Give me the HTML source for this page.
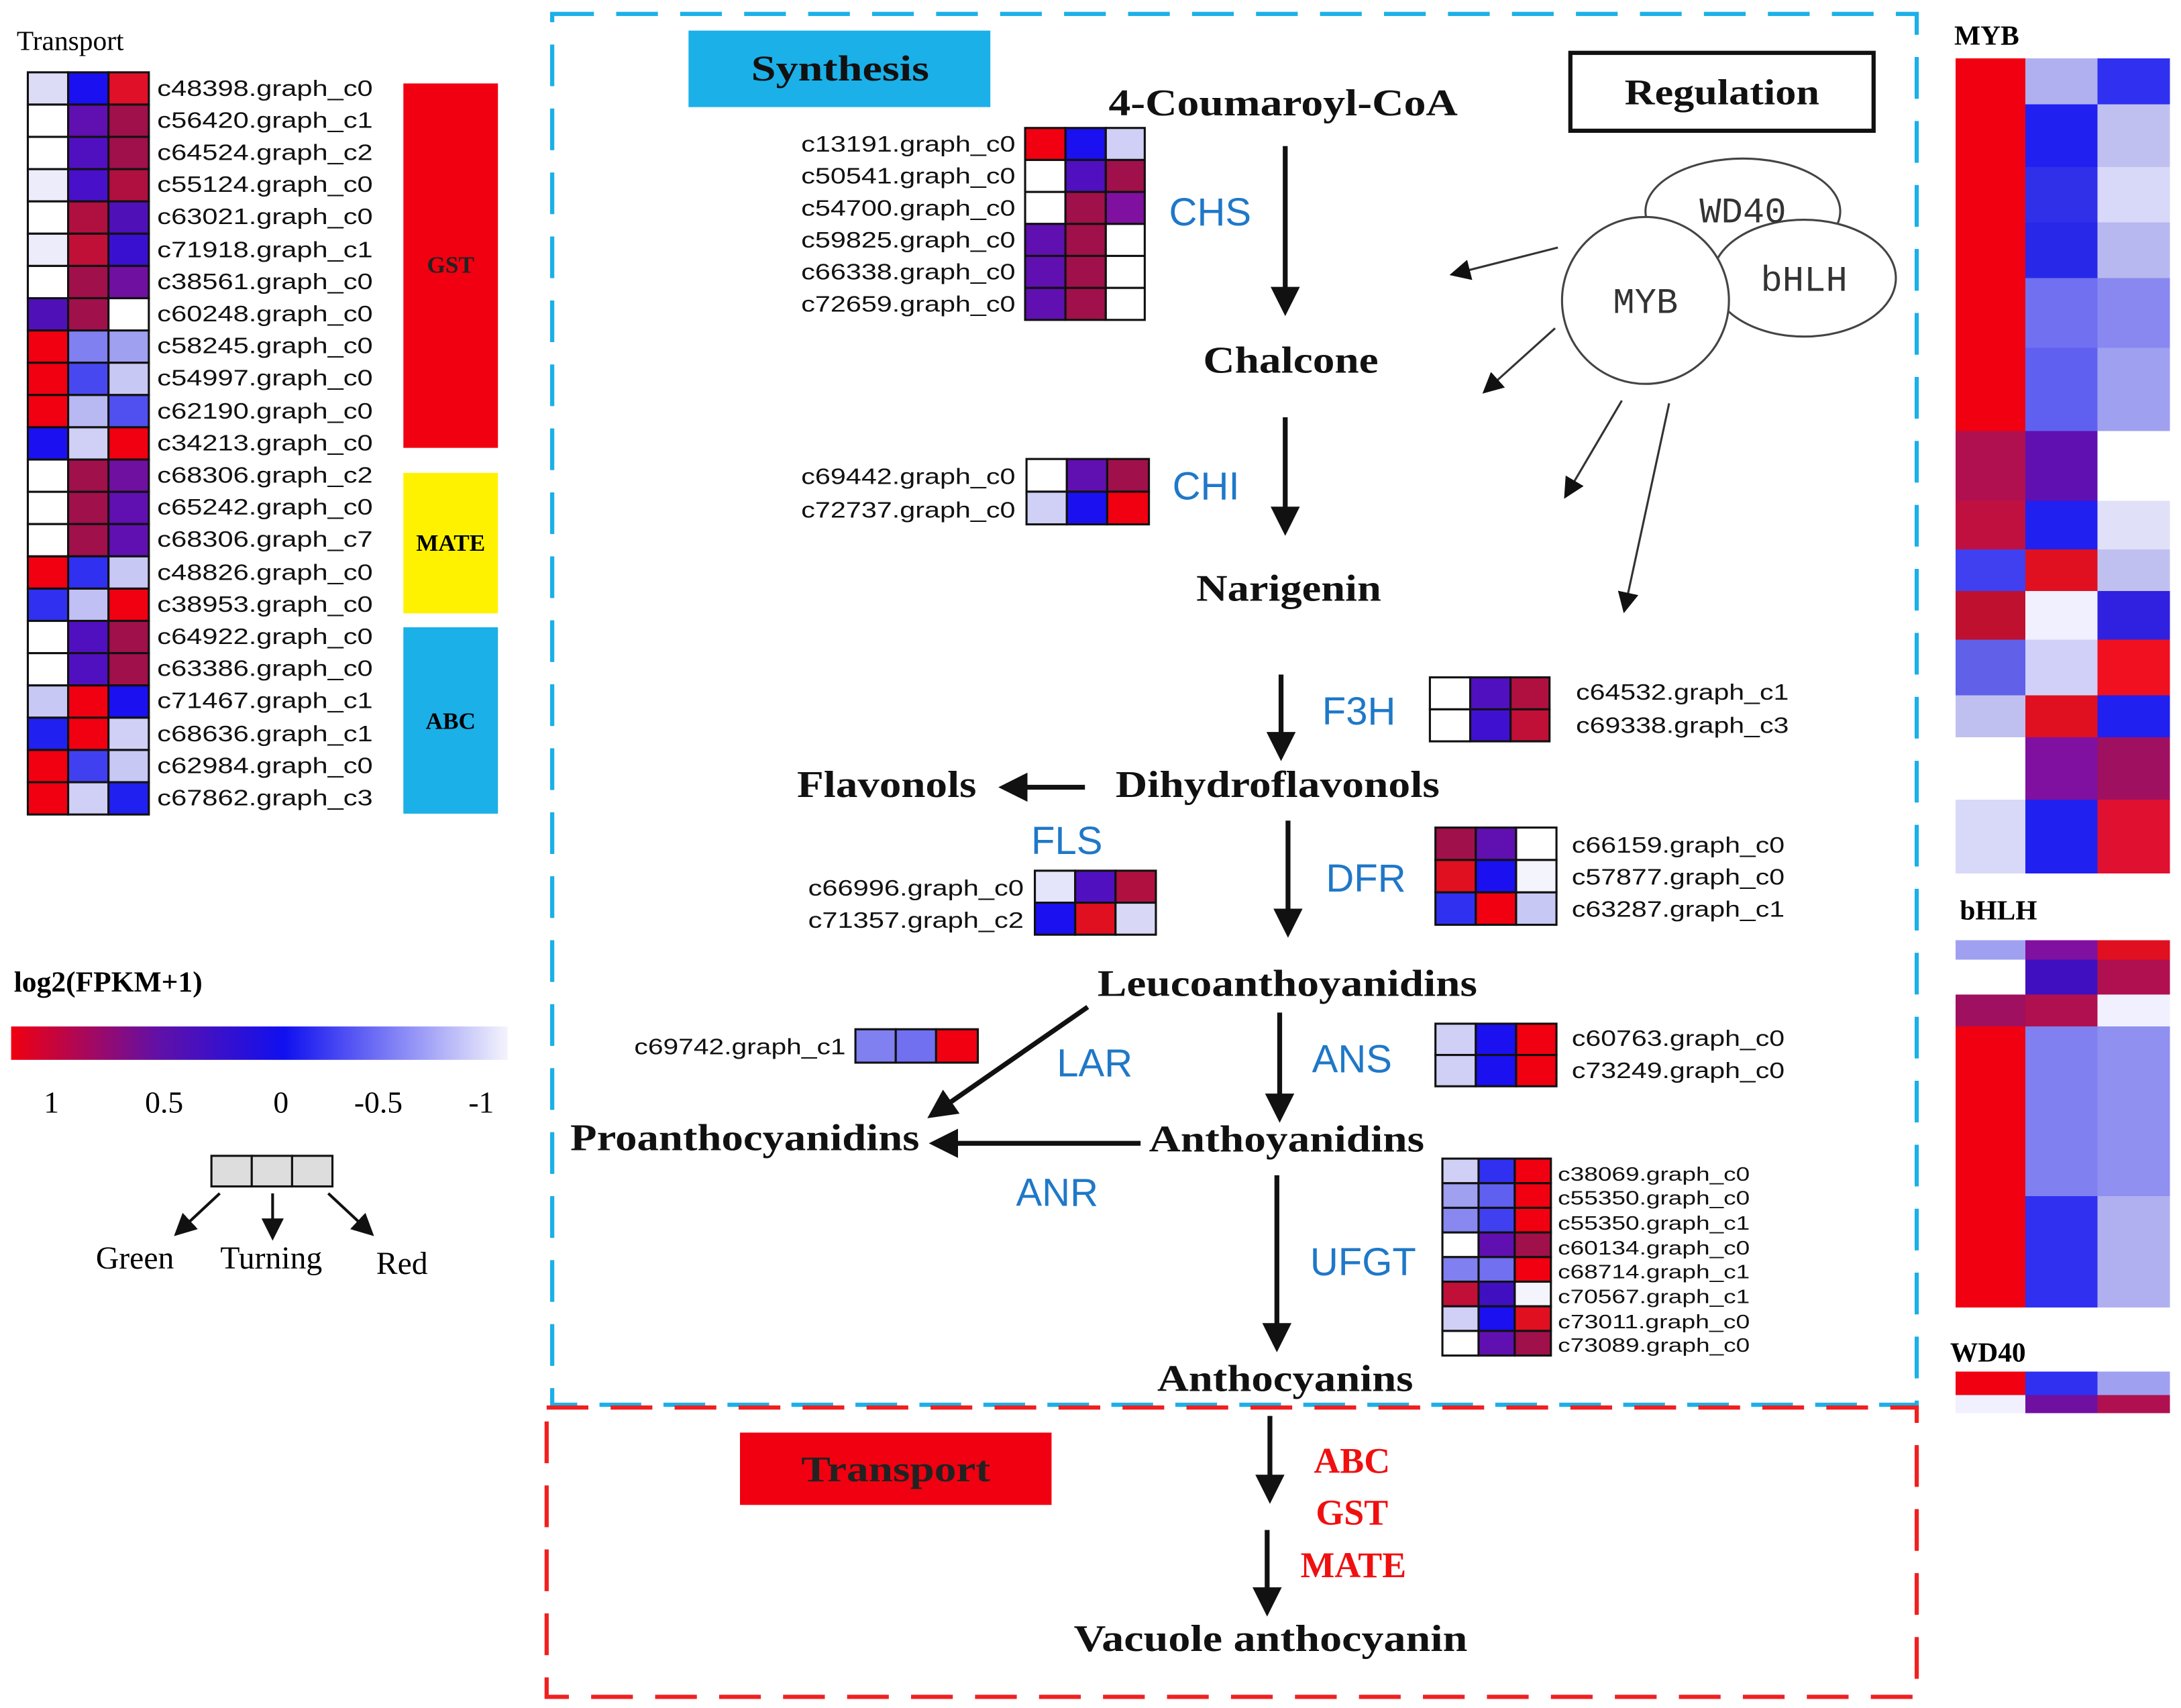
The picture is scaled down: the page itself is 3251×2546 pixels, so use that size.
<!DOCTYPE html>
<html><head><meta charset="utf-8"><style>
html,body{margin:0;padding:0;background:#fff}
svg{display:block}
.g{font-family:"Liberation Sans",sans-serif;font-size:15px;fill:#111}
.p{font-family:"Liberation Serif",serif;font-weight:bold;font-size:26px;fill:#111}
.e{font-family:"Liberation Sans",sans-serif;font-size:28px;fill:#1f78c8}
.t{font-family:"Liberation Serif",serif;font-weight:bold;font-size:26px;fill:#f01010}
rect.c{stroke:#111;stroke-width:1.5}
</style></head><body>
<svg width="3251" height="2546" viewBox="0 0 1568 1228" preserveAspectRatio="none" xmlns="http://www.w3.org/2000/svg">
<defs>
<marker id="a" markerWidth="6" markerHeight="6" refX="4.5" refY="3" orient="auto" markerUnits="strokeWidth"><path d="M0,0 L6,3 L0,6 z" fill="#111"/></marker>
<marker id="b" markerWidth="8" markerHeight="8" refX="6" refY="4" orient="auto" markerUnits="strokeWidth"><path d="M0,0 L8,4 L0,8 z" fill="#111"/></marker>
<marker id="s" markerWidth="10" markerHeight="10" refX="8" refY="5" orient="auto" markerUnits="strokeWidth"><path d="M0,0 L10,5 L0,10 z" fill="#111"/></marker>
<linearGradient id="lg" x1="0" x2="1"><stop offset="0" stop-color="#f00010"/><stop offset="0.3" stop-color="#6010a8"/><stop offset="0.55" stop-color="#1010f0"/><stop offset="1" stop-color="#f4f4fc"/></linearGradient>
</defs>

<text x="12" y="36" style="font-family:'Liberation Serif',serif;font-size:20px">Transport</text>
<g>
<rect class="c" x="20" y="52" width="29" height="23.2" fill="#dcdcf6"/><rect class="c" x="49" y="52" width="29" height="23.2" fill="#1a10f0"/><rect class="c" x="78" y="52" width="29" height="23.2" fill="#e01028"/>
<rect class="c" x="20" y="75.2" width="29" height="23.2" fill="#fff"/><rect class="c" x="49" y="75.2" width="29" height="23.2" fill="#6010b0"/><rect class="c" x="78" y="75.2" width="29" height="23.2" fill="#a0104a"/>
<rect class="c" x="20" y="98.4" width="29" height="23.2" fill="#fff"/><rect class="c" x="49" y="98.4" width="29" height="23.2" fill="#5010c0"/><rect class="c" x="78" y="98.4" width="29" height="23.2" fill="#a0104a"/>
<rect class="c" x="20" y="121.6" width="29" height="23.2" fill="#ececfa"/><rect class="c" x="49" y="121.6" width="29" height="23.2" fill="#4810c8"/><rect class="c" x="78" y="121.6" width="29" height="23.2" fill="#b01040"/>
<rect class="c" x="20" y="144.8" width="29" height="23.2" fill="#fff"/><rect class="c" x="49" y="144.8" width="29" height="23.2" fill="#b01040"/><rect class="c" x="78" y="144.8" width="29" height="23.2" fill="#5010b8"/>
<rect class="c" x="20" y="168" width="29" height="23.2" fill="#ececfa"/><rect class="c" x="49" y="168" width="29" height="23.2" fill="#c01038"/><rect class="c" x="78" y="168" width="29" height="23.2" fill="#3a10d0"/>
<rect class="c" x="20" y="191.2" width="29" height="23.2" fill="#fff"/><rect class="c" x="49" y="191.2" width="29" height="23.2" fill="#a0104a"/><rect class="c" x="78" y="191.2" width="29" height="23.2" fill="#7010a0"/>
<rect class="c" x="20" y="214.4" width="29" height="23.2" fill="#5010b8"/><rect class="c" x="49" y="214.4" width="29" height="23.2" fill="#a0104a"/><rect class="c" x="78" y="214.4" width="29" height="23.2" fill="#fff"/>
<rect class="c" x="20" y="237.6" width="29" height="23.2" fill="#f00010"/><rect class="c" x="49" y="237.6" width="29" height="23.2" fill="#8080f0"/><rect class="c" x="78" y="237.6" width="29" height="23.2" fill="#a0a0f0"/>
<rect class="c" x="20" y="260.8" width="29" height="23.2" fill="#f00010"/><rect class="c" x="49" y="260.8" width="29" height="23.2" fill="#4848f0"/><rect class="c" x="78" y="260.8" width="29" height="23.2" fill="#c8c8f4"/>
<rect class="c" x="20" y="284" width="29" height="23.2" fill="#f00010"/><rect class="c" x="49" y="284" width="29" height="23.2" fill="#b8b8f2"/><rect class="c" x="78" y="284" width="29" height="23.2" fill="#5050f0"/>
<rect class="c" x="20" y="307.2" width="29" height="23.2" fill="#1a10f0"/><rect class="c" x="49" y="307.2" width="29" height="23.2" fill="#d0d0f6"/><rect class="c" x="78" y="307.2" width="29" height="23.2" fill="#f00010"/>
<rect class="c" x="20" y="330.4" width="29" height="23.2" fill="#fff"/><rect class="c" x="49" y="330.4" width="29" height="23.2" fill="#a0104a"/><rect class="c" x="78" y="330.4" width="29" height="23.2" fill="#7010a0"/>
<rect class="c" x="20" y="353.6" width="29" height="23.2" fill="#fff"/><rect class="c" x="49" y="353.6" width="29" height="23.2" fill="#a0104a"/><rect class="c" x="78" y="353.6" width="29" height="23.2" fill="#6010b0"/>
<rect class="c" x="20" y="376.8" width="29" height="23.2" fill="#fff"/><rect class="c" x="49" y="376.8" width="29" height="23.2" fill="#a0104a"/><rect class="c" x="78" y="376.8" width="29" height="23.2" fill="#6010b0"/>
<rect class="c" x="20" y="400" width="29" height="23.2" fill="#f00010"/><rect class="c" x="49" y="400" width="29" height="23.2" fill="#3030f0"/><rect class="c" x="78" y="400" width="29" height="23.2" fill="#c8c8f4"/>
<rect class="c" x="20" y="423.2" width="29" height="23.2" fill="#3030f0"/><rect class="c" x="49" y="423.2" width="29" height="23.2" fill="#c0c0f4"/><rect class="c" x="78" y="423.2" width="29" height="23.2" fill="#f00010"/>
<rect class="c" x="20" y="446.4" width="29" height="23.2" fill="#fff"/><rect class="c" x="49" y="446.4" width="29" height="23.2" fill="#5010c0"/><rect class="c" x="78" y="446.4" width="29" height="23.2" fill="#a0104a"/>
<rect class="c" x="20" y="469.6" width="29" height="23.2" fill="#fff"/><rect class="c" x="49" y="469.6" width="29" height="23.2" fill="#5010c0"/><rect class="c" x="78" y="469.6" width="29" height="23.2" fill="#a0104a"/>
<rect class="c" x="20" y="492.8" width="29" height="23.2" fill="#c8c8f4"/><rect class="c" x="49" y="492.8" width="29" height="23.2" fill="#f00010"/><rect class="c" x="78" y="492.8" width="29" height="23.2" fill="#1a10f0"/>
<rect class="c" x="20" y="516" width="29" height="23.2" fill="#2020f0"/><rect class="c" x="49" y="516" width="29" height="23.2" fill="#f00010"/><rect class="c" x="78" y="516" width="29" height="23.2" fill="#d0d0f6"/>
<rect class="c" x="20" y="539.2" width="29" height="23.2" fill="#f00010"/><rect class="c" x="49" y="539.2" width="29" height="23.2" fill="#4040f0"/><rect class="c" x="78" y="539.2" width="29" height="23.2" fill="#c8c8f4"/>
<rect class="c" x="20" y="562.4" width="29" height="23.2" fill="#f00010"/><rect class="c" x="49" y="562.4" width="29" height="23.2" fill="#d0d0f6"/><rect class="c" x="78" y="562.4" width="29" height="23.2" fill="#2020f0"/>
</g>
<g class="g" style="font-size:16px">
<text x="113" y="69" textLength="155" lengthAdjust="spacingAndGlyphs">c48398.graph_c0</text><text x="113" y="92" textLength="155" lengthAdjust="spacingAndGlyphs">c56420.graph_c1</text><text x="113" y="115" textLength="155" lengthAdjust="spacingAndGlyphs">c64524.graph_c2</text><text x="113" y="138" textLength="155" lengthAdjust="spacingAndGlyphs">c55124.graph_c0</text><text x="113" y="161" textLength="155" lengthAdjust="spacingAndGlyphs">c63021.graph_c0</text><text x="113" y="185" textLength="155" lengthAdjust="spacingAndGlyphs">c71918.graph_c1</text><text x="113" y="208" textLength="155" lengthAdjust="spacingAndGlyphs">c38561.graph_c0</text><text x="113" y="231" textLength="155" lengthAdjust="spacingAndGlyphs">c60248.graph_c0</text><text x="113" y="254" textLength="155" lengthAdjust="spacingAndGlyphs">c58245.graph_c0</text><text x="113" y="277" textLength="155" lengthAdjust="spacingAndGlyphs">c54997.graph_c0</text><text x="113" y="301" textLength="155" lengthAdjust="spacingAndGlyphs">c62190.graph_c0</text><text x="113" y="324" textLength="155" lengthAdjust="spacingAndGlyphs">c34213.graph_c0</text><text x="113" y="347" textLength="155" lengthAdjust="spacingAndGlyphs">c68306.graph_c2</text><text x="113" y="370" textLength="155" lengthAdjust="spacingAndGlyphs">c65242.graph_c0</text><text x="113" y="393" textLength="155" lengthAdjust="spacingAndGlyphs">c68306.graph_c7</text><text x="113" y="417" textLength="155" lengthAdjust="spacingAndGlyphs">c48826.graph_c0</text><text x="113" y="440" textLength="155" lengthAdjust="spacingAndGlyphs">c38953.graph_c0</text><text x="113" y="463" textLength="155" lengthAdjust="spacingAndGlyphs">c64922.graph_c0</text><text x="113" y="486" textLength="155" lengthAdjust="spacingAndGlyphs">c63386.graph_c0</text><text x="113" y="509" textLength="155" lengthAdjust="spacingAndGlyphs">c71467.graph_c1</text><text x="113" y="533" textLength="155" lengthAdjust="spacingAndGlyphs">c68636.graph_c1</text><text x="113" y="556" textLength="155" lengthAdjust="spacingAndGlyphs">c62984.graph_c0</text><text x="113" y="579" textLength="155" lengthAdjust="spacingAndGlyphs">c67862.graph_c3</text>
</g>
<rect x="290" y="60" width="68" height="262" fill="#f00010"/>
<rect x="290" y="340" width="68" height="101" fill="#fff200"/>
<rect x="290" y="451" width="68" height="134" fill="#1bb0e8"/>
<g style="font-family:'Liberation Serif',serif;font-weight:bold;font-size:17px" text-anchor="middle"><text x="324" y="196" fill="#222">GST</text><text x="324" y="396">MATE</text><text x="324" y="524">ABC</text></g>

<text x="10" y="713" style="font-family:'Liberation Serif',serif;font-weight:bold;font-size:21px">log2(FPKM+1)</text>
<rect x="8" y="738" width="357" height="24" fill="url(#lg)"/>
<g style="font-family:'Liberation Serif',serif;font-size:22px" text-anchor="middle"><text x="37" y="800">1</text><text x="118" y="800">0.5</text><text x="202" y="800">0</text><text x="272" y="800">-0.5</text><text x="346" y="800">-1</text></g>
<rect x="152" y="831" width="29" height="22" fill="#ddd" stroke="#111" stroke-width="1.5"/><rect x="181" y="831" width="29" height="22" fill="#ddd" stroke="#111" stroke-width="1.5"/><rect x="210" y="831" width="29" height="22" fill="#ddd" stroke="#111" stroke-width="1.5"/>
<g stroke="#111" stroke-width="2"><line x1="158" y1="858" x2="128" y2="886" marker-end="url(#b)"/><line x1="196" y1="858" x2="196" y2="888" marker-end="url(#b)"/><line x1="236" y1="858" x2="266" y2="886" marker-end="url(#b)"/></g>
<g style="font-family:'Liberation Serif',serif;font-size:23px" text-anchor="middle"><text x="97" y="912">Green</text><text x="195" y="912">Turning</text><text x="289" y="916">Red</text></g>

<rect x="397" y="10" width="981" height="1000" fill="none" stroke="#1bb0e8" stroke-width="3" stroke-dasharray="30,16"/>
<rect x="393" y="1012" width="985" height="208" fill="none" stroke="#f02020" stroke-width="3" stroke-dasharray="30,16"/>
<rect x="495" y="22" width="217" height="55" fill="#1bb0e8"/>
<text x="604" y="58" text-anchor="middle" class="p" textLength="128" lengthAdjust="spacingAndGlyphs">Synthesis</text>
<rect x="532" y="1030" width="224" height="52" fill="#f00010"/>
<text x="644" y="1065" text-anchor="middle" class="p" style="fill:#222" textLength="136" lengthAdjust="spacingAndGlyphs">Transport</text>
<rect x="1129" y="38" width="218" height="56" fill="#fff" stroke="#111" stroke-width="3"/>
<text x="1238" y="75" text-anchor="middle" class="p" textLength="140" lengthAdjust="spacingAndGlyphs">Regulation</text>

<ellipse cx="1253" cy="152" rx="70" ry="38" fill="#fff" stroke="#444" stroke-width="1.5"/>
<ellipse cx="1297" cy="200" rx="66" ry="42" fill="#fff" stroke="#444" stroke-width="1.5"/>
<circle cx="1183" cy="216" r="60" fill="#fff" stroke="#444" stroke-width="1.5"/>
<g style="font-family:'Liberation Mono',monospace;font-size:26px" text-anchor="middle" fill="#333"><text x="1253" y="160">WD40</text><text x="1297" y="209">bHLH</text><text x="1183" y="225">MYB</text></g>
<g stroke="#333" stroke-width="1.5"><line x1="1120" y1="178" x2="1045" y2="197" marker-end="url(#s)"/><line x1="1118" y1="236" x2="1068" y2="281" marker-end="url(#s)"/><line x1="1166" y1="288" x2="1126" y2="356" marker-end="url(#s)"/><line x1="1200" y1="290" x2="1168" y2="438" marker-end="url(#s)"/></g>

<g class="p" style="font-size:27px">
<text x="797" y="83" textLength="251" lengthAdjust="spacingAndGlyphs">4-Coumaroyl-CoA</text>
<text x="865" y="268" textLength="126" lengthAdjust="spacingAndGlyphs">Chalcone</text>
<text x="860" y="432" textLength="133" lengthAdjust="spacingAndGlyphs">Narigenin</text>
<text x="802" y="573" textLength="233" lengthAdjust="spacingAndGlyphs">Dihydroflavonols</text>
<text x="573" y="573" textLength="129" lengthAdjust="spacingAndGlyphs">Flavonols</text>
<text x="789" y="716" textLength="273" lengthAdjust="spacingAndGlyphs">Leucoanthoyanidins</text>
<text x="410" y="827" textLength="251" lengthAdjust="spacingAndGlyphs">Proanthocyanidins</text>
<text x="826" y="828" textLength="198" lengthAdjust="spacingAndGlyphs">Anthoyanidins</text>
<text x="832" y="1000" textLength="184" lengthAdjust="spacingAndGlyphs">Anthocyanins</text>
<text x="772" y="1187" textLength="283" lengthAdjust="spacingAndGlyphs">Vacuole anthocyanin</text>
</g>
<g class="e" text-anchor="middle">
<text x="870" y="162">CHS</text><text x="867" y="359">CHI</text><text x="977" y="521">F3H</text><text x="767" y="614">FLS</text><text x="982" y="641">DFR</text><text x="787" y="774">LAR</text><text x="972" y="771">ANS</text><text x="760" y="867">ANR</text><text x="980" y="917">UFGT</text>
</g>
<g class="t" text-anchor="middle"><text x="972" y="1059">ABC</text><text x="972" y="1096">GST</text><text x="973" y="1134">MATE</text></g>

<g stroke="#111" stroke-width="3.5">
<line x1="924" y1="105" x2="924" y2="222" marker-end="url(#a)"/>
<line x1="924" y1="300" x2="924" y2="380" marker-end="url(#a)"/>
<line x1="921" y1="485" x2="921" y2="542" marker-end="url(#a)"/>
<line x1="926" y1="590" x2="926" y2="669" marker-end="url(#a)"/>
<line x1="920" y1="728" x2="920" y2="802" marker-end="url(#a)"/>
<line x1="918" y1="845" x2="918" y2="967" marker-end="url(#a)"/>
<line x1="913" y1="1018" x2="913" y2="1076" marker-end="url(#a)"/>
<line x1="911" y1="1100" x2="911" y2="1157" marker-end="url(#a)"/>
<line x1="780" y1="566" x2="723" y2="566" marker-end="url(#a)"/>
<line x1="820" y1="822" x2="673" y2="822" marker-end="url(#a)"/>
<line x1="782" y1="724" x2="671" y2="801" marker-end="url(#a)"/>
</g>

<g>
<rect class="c" x="737" y="92" width="29" height="23" fill="#f00010"/><rect class="c" x="766" y="92" width="29" height="23" fill="#1a10f0"/><rect class="c" x="795" y="92" width="28" height="23" fill="#d0d0f6"/>
<rect class="c" x="737" y="115" width="29" height="23" fill="#fff"/><rect class="c" x="766" y="115" width="29" height="23" fill="#5010c0"/><rect class="c" x="795" y="115" width="28" height="23" fill="#a0104a"/>
<rect class="c" x="737" y="138" width="29" height="23" fill="#fff"/><rect class="c" x="766" y="138" width="29" height="23" fill="#a0104a"/><rect class="c" x="795" y="138" width="28" height="23" fill="#8010a0"/>
<rect class="c" x="737" y="161" width="29" height="23" fill="#6010b0"/><rect class="c" x="766" y="161" width="29" height="23" fill="#a0104a"/><rect class="c" x="795" y="161" width="28" height="23" fill="#fff"/>
<rect class="c" x="737" y="184" width="29" height="23" fill="#6010b0"/><rect class="c" x="766" y="184" width="29" height="23" fill="#a0104a"/><rect class="c" x="795" y="184" width="28" height="23" fill="#fff"/>
<rect class="c" x="737" y="207" width="29" height="23" fill="#6010b0"/><rect class="c" x="766" y="207" width="29" height="23" fill="#a0104a"/><rect class="c" x="795" y="207" width="28" height="23" fill="#fff"/>
</g>
<g class="g" style="font-size:16px"><text x="576" y="109" textLength="154" lengthAdjust="spacingAndGlyphs">c13191.graph_c0</text><text x="576" y="132" textLength="154" lengthAdjust="spacingAndGlyphs">c50541.graph_c0</text><text x="576" y="155" textLength="154" lengthAdjust="spacingAndGlyphs">c54700.graph_c0</text><text x="576" y="178" textLength="154" lengthAdjust="spacingAndGlyphs">c59825.graph_c0</text><text x="576" y="201" textLength="154" lengthAdjust="spacingAndGlyphs">c66338.graph_c0</text><text x="576" y="224" textLength="154" lengthAdjust="spacingAndGlyphs">c72659.graph_c0</text></g>

<rect class="c" x="738" y="330" width="29" height="23.5" fill="#fff"/><rect class="c" x="767" y="330" width="29" height="23.5" fill="#6010b0"/><rect class="c" x="796" y="330" width="30" height="23.5" fill="#a0104a"/>
<rect class="c" x="738" y="353.5" width="29" height="23.5" fill="#d0d0f6"/><rect class="c" x="767" y="353.5" width="29" height="23.5" fill="#1a10f0"/><rect class="c" x="796" y="353.5" width="30" height="23.5" fill="#f00010"/>
<g class="g" style="font-size:16px"><text x="576" y="348" textLength="154" lengthAdjust="spacingAndGlyphs">c69442.graph_c0</text><text x="576" y="372" textLength="154" lengthAdjust="spacingAndGlyphs">c72737.graph_c0</text></g>

<rect class="c" x="1028" y="487" width="29" height="23" fill="#fff"/><rect class="c" x="1057" y="487" width="29" height="23" fill="#5010c0"/><rect class="c" x="1086" y="487" width="28" height="23" fill="#b01040"/>
<rect class="c" x="1028" y="510" width="29" height="23" fill="#fff"/><rect class="c" x="1057" y="510" width="29" height="23" fill="#4010d0"/><rect class="c" x="1086" y="510" width="28" height="23" fill="#c01038"/>
<g class="g" style="font-size:16px"><text x="1133" y="503" textLength="153" lengthAdjust="spacingAndGlyphs">c64532.graph_c1</text><text x="1133" y="527" textLength="153" lengthAdjust="spacingAndGlyphs">c69338.graph_c3</text></g>

<rect class="c" x="1032" y="595" width="29" height="23.3" fill="#a0104a"/><rect class="c" x="1061" y="595" width="29" height="23.3" fill="#6010b0"/><rect class="c" x="1090" y="595" width="29" height="23.3" fill="#fff"/>
<rect class="c" x="1032" y="618.3" width="29" height="23.3" fill="#e01020"/><rect class="c" x="1061" y="618.3" width="29" height="23.3" fill="#1a10f0"/><rect class="c" x="1090" y="618.3" width="29" height="23.3" fill="#f4f4fc"/>
<rect class="c" x="1032" y="641.6" width="29" height="23.3" fill="#3030f0"/><rect class="c" x="1061" y="641.6" width="29" height="23.3" fill="#f00010"/><rect class="c" x="1090" y="641.6" width="29" height="23.3" fill="#c8c8f4"/>
<g class="g" style="font-size:16px"><text x="1130" y="613" textLength="153" lengthAdjust="spacingAndGlyphs">c66159.graph_c0</text><text x="1130" y="636" textLength="153" lengthAdjust="spacingAndGlyphs">c57877.graph_c0</text><text x="1130" y="659" textLength="153" lengthAdjust="spacingAndGlyphs">c63287.graph_c1</text></g>

<rect class="c" x="744" y="626" width="29" height="23" fill="#e4e4fa"/><rect class="c" x="773" y="626" width="29" height="23" fill="#5010c0"/><rect class="c" x="802" y="626" width="29" height="23" fill="#b01040"/>
<rect class="c" x="744" y="649" width="29" height="23" fill="#1a10f0"/><rect class="c" x="773" y="649" width="29" height="23" fill="#e01020"/><rect class="c" x="802" y="649" width="29" height="23" fill="#d8d8f6"/>
<g class="g" style="font-size:16px"><text x="581" y="644" textLength="155" lengthAdjust="spacingAndGlyphs">c66996.graph_c0</text><text x="581" y="667" textLength="155" lengthAdjust="spacingAndGlyphs">c71357.graph_c2</text></g>

<rect class="c" x="615" y="740" width="29" height="24" fill="#8080f0"/><rect class="c" x="644" y="740" width="29" height="24" fill="#7070f0"/><rect class="c" x="673" y="740" width="30" height="24" fill="#f00010"/>
<text class="g" x="456" y="758" style="font-size:16px" textLength="152" lengthAdjust="spacingAndGlyphs">c69742.graph_c1</text>

<rect class="c" x="1032" y="736" width="29" height="22.5" fill="#d0d0f6"/><rect class="c" x="1061" y="736" width="29" height="22.5" fill="#1a10f0"/><rect class="c" x="1090" y="736" width="29" height="22.5" fill="#f00010"/>
<rect class="c" x="1032" y="758.5" width="29" height="22.5" fill="#d0d0f6"/><rect class="c" x="1061" y="758.5" width="29" height="22.5" fill="#1a10f0"/><rect class="c" x="1090" y="758.5" width="29" height="22.5" fill="#f00010"/>
<g class="g" style="font-size:16px"><text x="1130" y="752" textLength="153" lengthAdjust="spacingAndGlyphs">c60763.graph_c0</text><text x="1130" y="775" textLength="153" lengthAdjust="spacingAndGlyphs">c73249.graph_c0</text></g>

<g>
<rect class="c" x="1037" y="833" width="26" height="17.7" fill="#d0d0f6"/><rect class="c" x="1063" y="833" width="26" height="17.7" fill="#3030f0"/><rect class="c" x="1089" y="833" width="26" height="17.7" fill="#f00010"/>
<rect class="c" x="1037" y="850.7" width="26" height="17.7" fill="#a0a0f0"/><rect class="c" x="1063" y="850.7" width="26" height="17.7" fill="#6060f0"/><rect class="c" x="1089" y="850.7" width="26" height="17.7" fill="#f00010"/>
<rect class="c" x="1037" y="868.4" width="26" height="17.7" fill="#8888f0"/><rect class="c" x="1063" y="868.4" width="26" height="17.7" fill="#4040f0"/><rect class="c" x="1089" y="868.4" width="26" height="17.7" fill="#f00010"/>
<rect class="c" x="1037" y="886.1" width="26" height="17.7" fill="#fff"/><rect class="c" x="1063" y="886.1" width="26" height="17.7" fill="#6010b0"/><rect class="c" x="1089" y="886.1" width="26" height="17.7" fill="#a0104a"/>
<rect class="c" x="1037" y="903.8" width="26" height="17.7" fill="#8080f0"/><rect class="c" x="1063" y="903.8" width="26" height="17.7" fill="#7070f0"/><rect class="c" x="1089" y="903.8" width="26" height="17.7" fill="#f00010"/>
<rect class="c" x="1037" y="921.5" width="26" height="17.7" fill="#c01038"/><rect class="c" x="1063" y="921.5" width="26" height="17.7" fill="#4010c0"/><rect class="c" x="1089" y="921.5" width="26" height="17.7" fill="#f4f4fc"/>
<rect class="c" x="1037" y="939.2" width="26" height="17.7" fill="#d0d0f6"/><rect class="c" x="1063" y="939.2" width="26" height="17.7" fill="#1a10f0"/><rect class="c" x="1089" y="939.2" width="26" height="17.7" fill="#e01020"/>
<rect class="c" x="1037" y="956.9" width="26" height="17.7" fill="#fff"/><rect class="c" x="1063" y="956.9" width="26" height="17.7" fill="#6010b0"/><rect class="c" x="1089" y="956.9" width="26" height="17.7" fill="#a0104a"/>
</g>
<g class="g" style="font-size:14px"><text x="1120" y="849" textLength="138" lengthAdjust="spacingAndGlyphs">c38069.graph_c0</text><text x="1120" y="866" textLength="138" lengthAdjust="spacingAndGlyphs">c55350.graph_c0</text><text x="1120" y="884" textLength="138" lengthAdjust="spacingAndGlyphs">c55350.graph_c1</text><text x="1120" y="902" textLength="138" lengthAdjust="spacingAndGlyphs">c60134.graph_c0</text><text x="1120" y="919" textLength="138" lengthAdjust="spacingAndGlyphs">c68714.graph_c1</text><text x="1120" y="937" textLength="138" lengthAdjust="spacingAndGlyphs">c70567.graph_c1</text><text x="1120" y="955" textLength="138" lengthAdjust="spacingAndGlyphs">c73011.graph_c0</text><text x="1120" y="972" textLength="138" lengthAdjust="spacingAndGlyphs">c73089.graph_c0</text></g>

<g style="font-family:'Liberation Serif',serif;font-weight:bold;font-size:20px"><text x="1405" y="32">MYB</text><text x="1409" y="661">bHLH</text><text x="1402" y="979">WD40</text></g>
<g shape-rendering="crispEdges">
<rect x="1406" y="42" width="50" height="268" fill="#f00010"/>
<rect x="1456" y="42" width="52" height="33" fill="#b0b0f0"/><rect x="1508" y="42" width="52" height="33" fill="#3030f0"/>
<rect x="1456" y="75" width="52" height="45" fill="#2020f0"/><rect x="1508" y="75" width="52" height="45" fill="#c0c0f0"/>
<rect x="1456" y="120" width="52" height="40" fill="#3030e8"/><rect x="1508" y="120" width="52" height="40" fill="#d8d8f8"/>
<rect x="1456" y="160" width="52" height="40" fill="#2828e8"/><rect x="1508" y="160" width="52" height="40" fill="#b8b8f0"/>
<rect x="1456" y="200" width="52" height="50" fill="#7070f0"/><rect x="1508" y="200" width="52" height="50" fill="#8888f0"/>
<rect x="1456" y="250" width="52" height="60" fill="#6060f0"/><rect x="1508" y="250" width="52" height="60" fill="#a0a0f0"/>
<rect x="1406" y="310" width="50" height="50" fill="#b01050"/><rect x="1456" y="310" width="52" height="50" fill="#6010b0"/><rect x="1508" y="310" width="52" height="50" fill="#fff"/>
<rect x="1406" y="360" width="50" height="35" fill="#c01040"/><rect x="1456" y="360" width="52" height="35" fill="#2020f0"/><rect x="1508" y="360" width="52" height="35" fill="#e0e0f8"/>
<rect x="1406" y="395" width="50" height="30" fill="#4040f0"/><rect x="1456" y="395" width="52" height="30" fill="#e01020"/><rect x="1508" y="395" width="52" height="30" fill="#c0c0f0"/>
<rect x="1406" y="425" width="50" height="35" fill="#c01030"/><rect x="1456" y="425" width="52" height="35" fill="#f0f0ff"/><rect x="1508" y="425" width="52" height="35" fill="#3020e0"/>
<rect x="1406" y="460" width="50" height="40" fill="#6060e8"/><rect x="1456" y="460" width="52" height="40" fill="#d0d0f8"/><rect x="1508" y="460" width="52" height="40" fill="#f01020"/>
<rect x="1406" y="500" width="50" height="30" fill="#c0c0f0"/><rect x="1456" y="500" width="52" height="30" fill="#e01020"/><rect x="1508" y="500" width="52" height="30" fill="#2020f0"/>
<rect x="1406" y="530" width="50" height="45" fill="#fff"/><rect x="1456" y="530" width="52" height="45" fill="#8010a0"/><rect x="1508" y="530" width="52" height="45" fill="#a01060"/>
<rect x="1406" y="575" width="50" height="53" fill="#d8d8f8"/><rect x="1456" y="575" width="52" height="53" fill="#2020f0"/><rect x="1508" y="575" width="52" height="53" fill="#e01030"/>

<rect x="1406" y="676" width="50" height="14" fill="#a0a0f0"/><rect x="1456" y="676" width="52" height="14" fill="#8010a0"/><rect x="1508" y="676" width="52" height="14" fill="#e01020"/>
<rect x="1406" y="690" width="50" height="25" fill="#fff"/><rect x="1456" y="690" width="52" height="25" fill="#4010c0"/><rect x="1508" y="690" width="52" height="25" fill="#b01050"/>
<rect x="1406" y="715" width="50" height="23" fill="#a01060"/><rect x="1456" y="715" width="52" height="23" fill="#b01050"/><rect x="1508" y="715" width="52" height="23" fill="#f0f0ff"/>
<rect x="1406" y="738" width="50" height="202" fill="#f00010"/>
<rect x="1456" y="738" width="52" height="122" fill="#8080f0"/><rect x="1508" y="738" width="52" height="122" fill="#9090f0"/>
<rect x="1456" y="860" width="52" height="80" fill="#3030f0"/><rect x="1508" y="860" width="52" height="80" fill="#b0b0f0"/>

<rect x="1406" y="986" width="50" height="17" fill="#f00010"/><rect x="1456" y="986" width="52" height="17" fill="#3030f0"/><rect x="1508" y="986" width="52" height="17" fill="#a0a0f0"/>
<rect x="1406" y="1003" width="50" height="13" fill="#f0f0ff"/><rect x="1456" y="1003" width="52" height="13" fill="#7010a0"/><rect x="1508" y="1003" width="52" height="13" fill="#b01050"/>
</g>
</svg>
</body></html>
